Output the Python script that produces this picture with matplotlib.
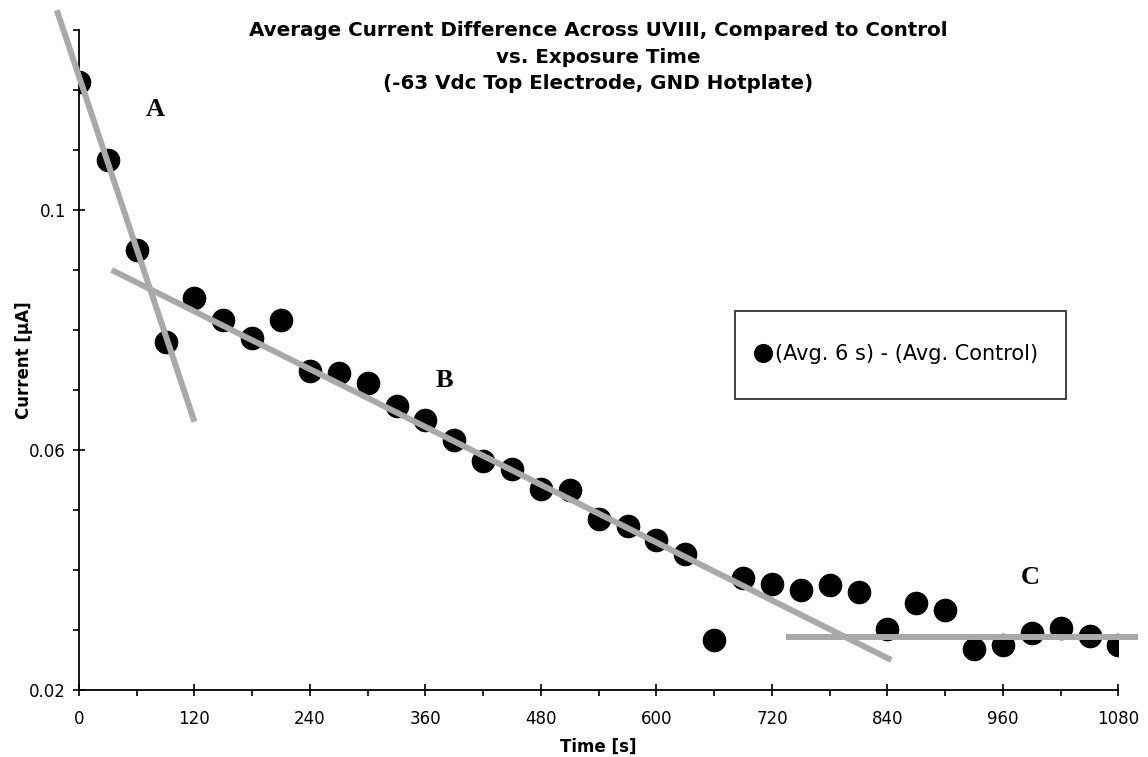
import matplotlib
matplotlib.use("Agg")
import matplotlib.pyplot as plt
from matplotlib.ticker import MultipleLocator
from matplotlib.patches import Rectangle

# exposure time [s] and averaged current difference [uA]
time_s = [0, 30, 60, 90, 120, 150, 180, 210, 240, 270, 300, 330, 360, 390,
          420, 450, 480, 510, 540, 570, 600, 630, 660, 690, 720, 750, 780,
          810, 840, 870, 900, 930, 960, 990, 1020, 1050, 1080]
current_ua = [0.1213, 0.1083, 0.0933, 0.0780, 0.0853, 0.0817, 0.0787, 0.0817,
              0.0732, 0.0728, 0.0712, 0.0673, 0.0650, 0.0617, 0.0582, 0.0568,
              0.0535, 0.0533, 0.0485, 0.0473, 0.0450, 0.0427, 0.0283, 0.0387,
              0.0377, 0.0367, 0.0375, 0.0363, 0.0302, 0.0345, 0.0333, 0.0268,
              0.0275, 0.0295, 0.0303, 0.0290, 0.0275]

# hand-drawn trend segments for the three regimes
seg_a_x = [-23, 120]
seg_a_y = [0.1333, 0.0647]
seg_b_x = [34, 844]
seg_b_y = [0.0900, 0.0250]
seg_c_x = [735, 1100]
seg_c_y = [0.0288, 0.0288]

region_names = ["A", "B", "C"]
region_x = [79, 380, 988]
region_y = [0.1167, 0.0715, 0.0387]

y_ticks = [0.02, 0.06, 0.1]

fig = plt.figure(figsize=(11.48, 7.57), dpi=100)
ax = fig.add_axes([0.0688, 0.0885, 0.9055, 0.8719])

ax.plot(time_s, current_ua, "o", color="black", markersize=16,
        label="(Avg. 6 s) - (Avg. Control)", zorder=3)

for sx, sy in [(seg_a_x, seg_a_y), (seg_b_x, seg_b_y), (seg_c_x, seg_c_y)]:
    ax.plot(sx, sy, color="#a9a9a9", linewidth=4.3, solid_capstyle="butt",
            clip_on=False, zorder=4)

for name, lx, ly in zip(region_names, region_x, region_y):
    ax.text(lx, ly, name, family="Liberation Serif", fontweight="bold",
            fontsize=19, ha="center", va="center")

ax.set_xlim(0, 1080)
ax.set_ylim(0.02, 0.13)
ax.xaxis.set_major_locator(MultipleLocator(120))
ax.xaxis.set_minor_locator(MultipleLocator(60))
ax.set_yticks(y_ticks)
ax.yaxis.set_minor_locator(MultipleLocator(0.01))
ax.yaxis.set_major_formatter(plt.FuncFormatter(lambda v, p: f"{v:g}"))

ax.tick_params(which="major", direction="inout", length=9, width=1.2,
               labelsize=12, colors="black")
ax.tick_params(axis="x", which="major", pad=10)
ax.tick_params(axis="y", which="major", pad=5)
ax.tick_params(which="minor", direction="out", length=4, width=1.2)

for side in ["top", "right"]:
    ax.spines[side].set_visible(False)
for side in ["left", "bottom"]:
    ax.spines[side].set_linewidth(1.3)

ax.set_xlabel("Time [s]", fontweight="bold", fontsize=12, labelpad=7)
ax.set_ylabel("Current [μA]", fontweight="bold", fontsize=12, labelpad=-3)

fig.text(0.521, 0.972,
         "Average Current Difference Across UVIII, Compared to Control\n"
         "vs. Exposure Time\n(-63 Vdc Top Electrode, GND Hotplate)",
         ha="center", va="top", fontsize=14.3, fontweight="bold",
         linespacing=1.5)

# legend box
fig.patches.append(Rectangle((735 / 1148, 1 - 399 / 757), 331 / 1148, 88 / 757,
                             transform=fig.transFigure, facecolor="white",
                             edgecolor="#333333", linewidth=1.3, zorder=5))
fig.legend(loc="center", bbox_to_anchor=(897 / 1148, 1 - 354 / 757),
           frameon=False, fontsize=15, markerscale=0.8, handlelength=0.7,
           handletextpad=0.2)

plt.savefig("out.png", dpi=100)
